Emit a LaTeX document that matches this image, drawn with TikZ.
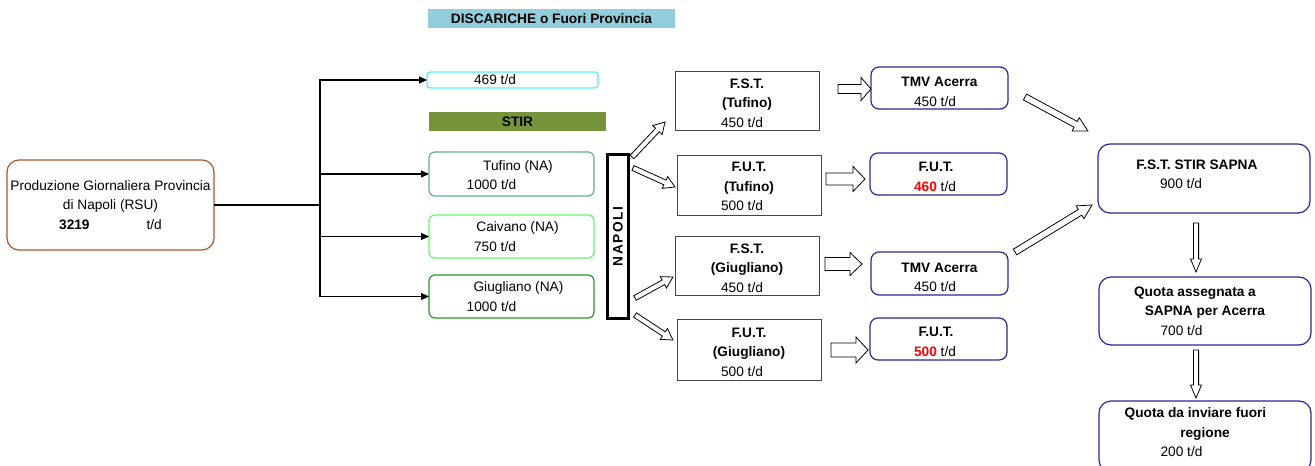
\documentclass[tikz,border=0pt]{standalone}
\usepackage{fontspec}
\setmainfont{Liberation Sans}
\newfontfamily\spacedfont[LetterSpace=12]{Liberation Sans}
\usetikzlibrary{calc,arrows.meta}
\definecolor{srcc}{RGB}{176,84,40}
\definecolor{hdrc}{RGB}{146,205,220}
\definecolor{stirc}{RGB}{119,147,60}
\definecolor{cyanc}{RGB}{80,240,250}
\definecolor{tufc}{RGB}{100,175,140}
\definecolor{caic}{RGB}{100,250,100}
\definecolor{giuc}{RGB}{40,150,40}
\definecolor{bluec}{RGB}{40,40,150}
\definecolor{grayc}{RGB}{70,70,70}
\newcommand\dnA{\rule{0pt}{15pt}}
\newcommand\dnB{\rule{0pt}{17.5pt}}
\newcommand\upA{\rule[-8.5pt]{0pt}{8.5pt}}
\newcommand\blockarr[5]{%
  \coordinate (bah) at ($(#2)!#5!(#1)$);
  \draw[blockarrow] ($(#1)!#3!90:(#2)$) -- ($(bah)!#3!-90:(#1)$) -- ($(bah)!#4!-90:(#1)$) -- (#2)
    -- ($(bah)!#4!90:(#1)$) -- ($(bah)!#3!90:(#1)$) -- ($(#1)!#3!-90:(#2)$) -- cycle;}
\tikzset{
  every node/.style={font=\fontsize{13.7}{19.5}\selectfont, align=center, inner sep=0pt, outer sep=0pt},
  srcbox/.style={draw=srcc, line width=1.2pt, rounded corners=12pt},
  plainbox/.style={draw=grayc, line width=1pt},
  bluebox/.style={draw=bluec, line width=1.2pt, rounded corners=8pt},
  bigbluebox/.style={draw=bluec, line width=1.2pt, rounded corners=12pt},
  greenbox/.style={line width=1.2pt, rounded corners=6pt},
  conn/.style={line width=1.1pt, -{Triangle[length=8pt,width=7pt]}},
  blockarrow/.style={draw=black, fill=white, line width=0.8pt, line join=miter},
}
\begin{document}
\begin{tikzpicture}[x=1pt,y=-1pt]
\useasboundingbox (0,0) rectangle (1315,466);
\clip (0,0) rectangle (1315,466);
\fill[white] (0,0) rectangle (1315,466);

% source
\node[srcbox, minimum width=207pt, minimum height=90pt] (src) at (110.5,205)
  {Produzione Giornaliera Provincia\\di Napoli (RSU)\\\textbf{3219}\hspace{57pt}t/d};

% headers
\node[fill=hdrc, minimum width=247pt, minimum height=19pt] (hdr) at (551.5,18.5) {\textbf{DISCARICHE o Fuori Provincia}};
\node[fill=stirc, minimum width=177pt, minimum height=19pt] (stir) at (517.5,121.5) {\textbf{STIR}};

% left boxes
\node[draw=cyanc, line width=1.2pt, rounded corners=3pt, minimum width=171pt, minimum height=16pt] (t469) at (512.5,80)
  {469 t/d\hspace*{35pt}};
\node[greenbox, draw=tufc, minimum width=165pt, minimum height=44pt] (tuf) at (511.5,174)
  {\rule{0pt}{12.5pt}\hspace*{13pt}Tufino (NA)\\1000 t/d\hspace*{40pt}};
\node[greenbox, draw=caic, minimum width=165pt, minimum height=43pt] (cai) at (511.5,236.5)
  {\hspace*{12pt}Caivano (NA)\\750 t/d\hspace*{33pt}};
\node[greenbox, draw=giuc, minimum width=165pt, minimum height=43pt] (giu) at (511.5,296.5)
  {\hspace*{14pt}Giugliano (NA)\\1000 t/d\hspace*{40pt}};

% NAPOLI
\node[draw=black, line width=3pt, minimum width=21pt, minimum height=164pt] (nap) at (618,236.5) {};
\node[rotate=90] (napt) at (nap.center) {\spacedfont\bfseries NAPOLI};

% middle boxes
\node[plainbox, minimum width=144pt, minimum height=59pt] (fst1) at (747,100.5)
  {\dnA\textbf{F.S.T.}\\\textbf{(Tufino)}\\450 t/d\hspace*{10pt}};
\node[plainbox, minimum width=144pt, minimum height=60pt] (fut1) at (749,185)
  {\rule{0pt}{13pt}\textbf{F.U.T.}\\\textbf{(Tufino)}\\500 t/d\hspace*{14pt}};
\node[plainbox, minimum width=144pt, minimum height=59pt] (fst2) at (747,265.5)
  {\dnA\textbf{F.S.T.}\\\textbf{(Giugliano)}\\450 t/d\hspace*{10pt}};
\node[plainbox, minimum width=144pt, minimum height=61pt] (fut2) at (749,349.5)
  {\dnA\textbf{F.U.T.}\\\textbf{(Giugliano)}\\500 t/d\hspace*{14pt}};

% blue boxes
\node[bluebox, minimum width=137pt, minimum height=42pt] (tmv1) at (939.5,88)
  {\dnB\textbf{TMV Acerra}\\450 t/d\hspace*{9pt}};
\node[bluebox, minimum width=137pt, minimum height=42pt] (fut460) at (938.5,174)
  {\dnA\textbf{F.U.T.}\hspace*{5pt}\\\textbf{\color{red}460} t/d\hspace*{7pt}};
\node[bluebox, minimum width=137pt, minimum height=43pt] (tmv2) at (939.5,273.5)
  {\dnB\textbf{TMV Acerra}\\450 t/d\hspace*{9pt}};
\node[bluebox, minimum width=137pt, minimum height=42pt] (fut500) at (938.5,339)
  {\dnA\textbf{F.U.T.}\hspace*{5pt}\\\textbf{\color{red}500} t/d\hspace*{7pt}};

% right boxes
\node[bigbluebox, minimum width=212pt, minimum height=69pt] (sapna) at (1204,178.5)
  {\textbf{F.S.T. STIR SAPNA}\hspace*{14pt}\\900 t/d\hspace*{46pt}\upA};
\node[bigbluebox, minimum width=212pt, minimum height=68pt] (q1) at (1205,311)
  {\textbf{Quota assegnata a}\hspace*{20pt}\\\textbf{SAPNA per Acerra}\hspace*{19pt}\\700 t/d\hspace*{47pt}};
\node[bigbluebox, minimum width=212pt, minimum height=71pt] (q2) at (1205,436.5)
  {\textbf{Quota da inviare fuori}\hspace*{19pt}\\\textbf{regione}\hspace*{12pt}\\200 t/d\hspace*{47pt}\upA};

% thin connectors
\coordinate (j) at (320,205);
\draw[line width=2.5pt] (src.east) -- (j);
\draw[conn] (j) |- (t469.west);
\draw[conn] (j) |- (tuf.west);
\draw[conn] (j) |- (cai.west);
\draw[conn] (j) |- (giu.west);

% block arrows
\coordinate (a1s) at (632,157); \coordinate (a1e) at (665,122);
\coordinate (a2s) at (633,168); \coordinate (a2e) at (675,187);
\coordinate (a3s) at (635,298); \coordinate (a3e) at (673,277);
\coordinate (a4s) at (635,315); \coordinate (a4e) at (673,340);
\blockarr{a1s}{a1e}{2.6pt}{6.5pt}{11pt}
\blockarr{a2s}{a2e}{2.6pt}{6.5pt}{11pt}
\blockarr{a3s}{a3e}{2.6pt}{6.5pt}{11pt}
\blockarr{a4s}{a4e}{2.6pt}{6.5pt}{11pt}

\coordinate (h1s) at (838,89);  \coordinate (h1e) at (871,89);
\coordinate (h2s) at (826,179); \coordinate (h2e) at (865,179);
\coordinate (h3s) at (825,264); \coordinate (h3e) at (862,264);
\coordinate (h4s) at (831,350); \coordinate (h4e) at (868,350);
\blockarr{h1s}{h1e}{4.5pt}{11.5pt}{10pt}
\blockarr{h2s}{h2e}{6pt}{12.5pt}{12pt}
\blockarr{h3s}{h3e}{6.5pt}{11.5pt}{12pt}
\blockarr{h4s}{h4e}{7pt}{13pt}{12pt}

\coordinate (d1s) at (1025,97);  \coordinate (d1e) at (1088,131);
\coordinate (d2s) at (1015,252); \coordinate (d2e) at (1092,205);
\blockarr{d1s}{d1e}{3.3pt}{7.5pt}{14pt}
\blockarr{d2s}{d2e}{3.3pt}{7.5pt}{14pt}

\coordinate (v1s) at (1196,223); \coordinate (v1e) at (1196,272);
\coordinate (v2s) at (1196,350); \coordinate (v2e) at (1196,398);
\blockarr{v1s}{v1e}{2.6pt}{5.5pt}{13pt}
\blockarr{v2s}{v2e}{2.6pt}{5.5pt}{13pt}
\end{tikzpicture}
\end{document}
